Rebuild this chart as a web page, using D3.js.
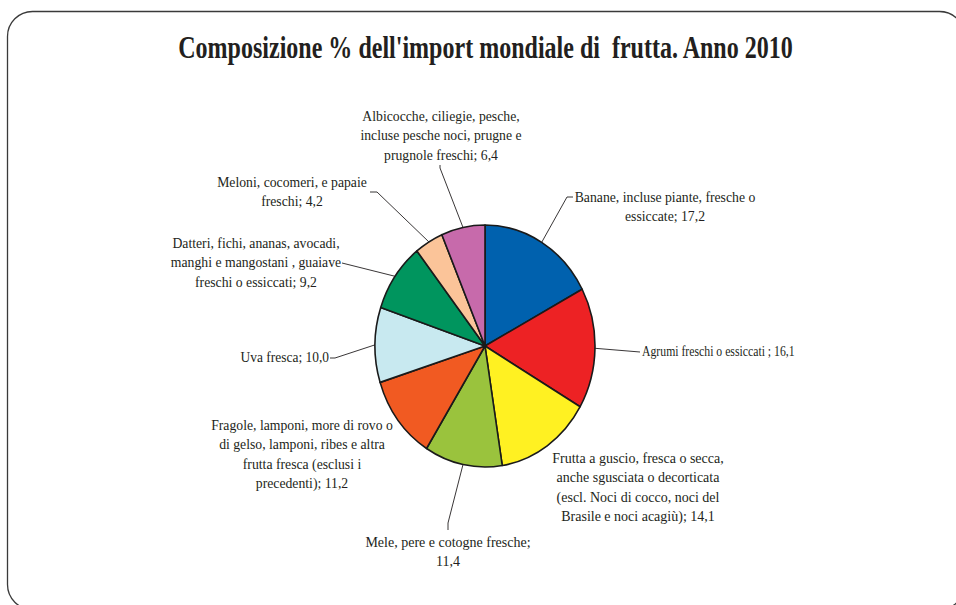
<!DOCTYPE html>
<html>
<head>
<meta charset="utf-8">
<script src="https://cdn.jsdelivr.net/npm/d3@7"></script>
<style>
  html, body { margin: 0; padding: 0; background: #fff; }
  svg { display: block; }
  text { font-family: "Liberation Serif", "Times New Roman", serif; fill: #231f20; }
</style>
</head>
<body>
<svg id="chart" width="956" height="605"></svg>
<script>
// World fruit imports, 2010: share of each product group (%)
const categories = [
  "Banane, incluse piante, fresche o essiccate",
  "Agrumi freschi o essiccati",
  "Frutta a guscio, fresca o secca, anche sgusciata o decorticata (escl. Noci di cocco, noci del Brasile e noci acagiù)",
  "Mele, pere e cotogne fresche",
  "Fragole, lamponi, more di rovo o di gelso, lamponi, ribes e altra frutta fresca (esclusi i precedenti)",
  "Uva fresca",
  "Datteri, fichi, ananas, avocadi, manghi e mangostani , guaiave freschi o essiccati",
  "Meloni, cocomeri, e papaie freschi",
  "Albicocche, ciliegie, pesche, incluse pesche noci, prugne e prugnole freschi"
];
const values = [17.2, 16.1, 14.1, 11.4, 11.2, 10.0, 9.2, 4.2, 6.4];
const colors = ["#0061ae", "#ed2224", "#fff122", "#9ac33d", "#f15a22",
                "#c8e9f0", "#00955e", "#fbc499", "#c76aab"];

const fmt = v => d3.format(".1f")(v).replace(".", ",");

// Label layout: wrapped lines ({v} is replaced by the value), anchor, first baseline,
// horizontal condensing, and the leader path (elbow + end) from the slice edge.
const labelLayout = [
  { lines: ["Banane, incluse piante, fresche o", "essiccate; {v}"], x: 665, y: 202, anchor: "middle", sx: 0.98,
    leader: [[567, 197], [573, 197]] },
  { lines: ["Agrumi freschi o essiccati ; {v}"], x: 642, y: 356, anchor: "start", sx: 0.84,
    leader: [[640, 352]] },
  { lines: ["Frutta a guscio, fresca o secca,", "anche sgusciata o decorticata",
            "(escl. Noci di cocco, noci del", "Brasile e noci acagiù); {v}"], x: 638, y: 463, anchor: "middle", sx: 1.0,
    leader: null },
  { lines: ["Mele, pere e cotogne fresche;", "{v}"], x: 448, y: 547, anchor: "middle", sx: 1.0,
    leader: [[448, 523], [448, 530]] },
  { lines: ["Fragole, lamponi, more di rovo o", "di gelso, lamponi, ribes e altra",
            "frutta fresca (esclusi i", "precedenti); {v}"], x: 302, y: 430, anchor: "middle", sx: 0.98,
    leader: null },
  { lines: ["Uva fresca; {v}"], x: 329, y: 362, anchor: "end", sx: 0.96,
    leader: [[335, 358], [330, 358]] },
  { lines: ["Datteri, fichi, ananas, avocadi,", "manghi e mangostani , guaiave",
            "freschi o essiccati; {v}"], x: 256, y: 248, anchor: "middle", sx: 0.98,
    leader: [[342, 263]] },
  { lines: ["Meloni, cocomeri, e papaie", "freschi; {v}"], x: 292, y: 187, anchor: "middle", sx: 0.98,
    leader: [[377, 192], [370, 192]] },
  { lines: ["Albicocche, ciliegie, pesche,", "incluse pesche noci, prugne e",
            "prugnole freschi; {v}"], x: 441, y: 121, anchor: "middle", sx: 0.98,
    leader: [[440, 168], [440, 165]] }
];

const svg = d3.select("#chart");

// Rounded frame
svg.append("rect")
  .attr("x", 7.5).attr("y", 11.5)
  .attr("width", 957).attr("height", 598)
  .attr("rx", 25).attr("ry", 25)
  .attr("fill", "#fff").attr("stroke", "#3a3a3a").attr("stroke-width", 1.3);

// Title, condensed to its box width
const titleG = svg.append("g");
const title = titleG.append("text")
  .attr("x", 0).attr("y", 0)
  .attr("text-anchor", "middle")
  .attr("font-size", 31).attr("font-weight", "bold")
  .text("Composizione % dell'import mondiale di\u00a0 frutta. Anno 2010");
const titleW = title.node().getComputedTextLength();
titleG.attr("transform", `translate(485.5,58) scale(${615 / titleW},1)`);

// Pie
const cx = 485, cy = 346, rx = 110, ry = 121;
const pie = d3.pie().sort(null).value(d => d)(values);
const arc = d3.arc().innerRadius(0).outerRadius(ry);

const g = svg.append("g").attr("transform", `translate(${cx},${cy}) scale(${rx / ry},1)`);
g.selectAll("path")
  .data(pie)
  .join("path")
  .attr("d", arc)
  .attr("fill", (d, i) => colors[i])
  .attr("stroke", "#1a1a1a")
  .attr("stroke-width", 1.6)
  .attr("stroke-linejoin", "round")
  .attr("vector-effect", "non-scaling-stroke");

// Leader lines from the slice edge
const edgePoint = d => {
  const a = (d.startAngle + d.endAngle) / 2;
  return [cx + rx * Math.sin(a), cy - ry * Math.cos(a)];
};
const line = d3.line();
pie.forEach((d, i) => {
  const L = labelLayout[i];
  if (!L.leader) return;
  svg.append("path")
    .attr("d", line([edgePoint(d), ...L.leader]))
    .attr("fill", "none")
    .attr("stroke", "#231f20")
    .attr("stroke-width", 0.9);
});

// Labels (condensed serif)
pie.forEach((d, i) => {
  const L = labelLayout[i];
  const t = svg.append("g")
    .attr("transform", `translate(${L.x},${L.y}) scale(${L.sx},1)`)
    .append("text")
    .attr("text-anchor", L.anchor)
    .attr("font-size", 14);
  L.lines.forEach((s, k) => {
    t.append("tspan")
      .attr("x", 0)
      .attr("y", k * 19.3)
      .text(s.replace("{v}", fmt(values[i])));
  });
});
</script>
</body>
</html>
